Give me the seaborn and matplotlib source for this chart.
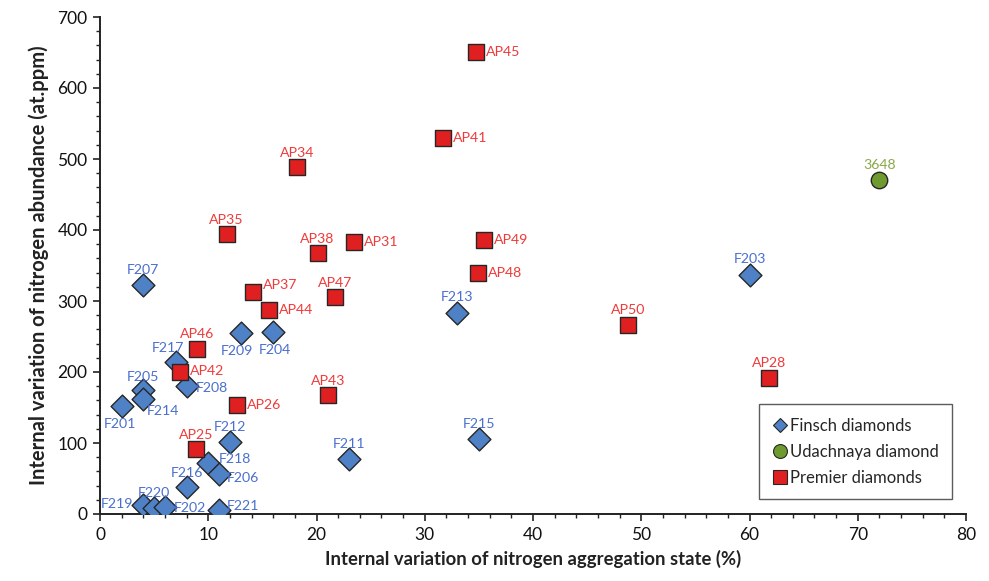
import matplotlib
matplotlib.use("Agg")
import matplotlib.pyplot as plt
from matplotlib.lines import Line2D
from matplotlib.ticker import MultipleLocator
import seaborn as sns
import pandas as pd

# ---- data ----
finsch_names = ["F207", "F205", "F214", "F201", "F217", "F208", "F209", "F204", "F212", "F218",
                "F206", "F216", "F219", "F220", "F202", "F221", "F211", "F213", "F215", "F203"]
finsch_x = [4, 4, 4, 2, 7, 8, 13, 16, 12, 10, 11, 8, 4, 5, 6, 11, 23, 33, 35, 60]
finsch_y = [322, 174, 162, 152, 214, 180, 255, 256, 102, 72, 57, 38, 12, 9, 10, 5, 77, 283, 106, 336]

udach_names = ["3648"]
udach_x = [72]
udach_y = [471]

premier_names = ["AP45", "AP41", "AP34", "AP35", "AP38", "AP31", "AP37", "AP47", "AP44", "AP46",
                 "AP42", "AP26", "AP43", "AP25", "AP49", "AP48", "AP50", "AP28"]
premier_x = [34.7, 31.7, 18.2, 11.7, 20.1, 23.5, 14.1, 21.7, 15.6, 9.0,
             7.4, 12.7, 21.1, 8.9, 35.5, 34.9, 48.8, 61.8]
premier_y = [651, 530, 489, 395, 368, 383, 313, 305, 287, 232,
             200, 154, 167, 92, 386, 339, 266, 191]

groups = ["Finsch diamonds", "Udachnaya diamond", "Premier diamonds"]

df = pd.DataFrame({
    "name": finsch_names + udach_names + premier_names,
    "x": finsch_x + udach_x + premier_x,
    "y": finsch_y + udach_y + premier_y,
    "group": [groups[0]] * len(finsch_names) + [groups[1]] * len(udach_names) + [groups[2]] * len(premier_names),
})

# ---- styles ----
fill = {groups[0]: "#4f81c7", groups[1]: "#6f9a2f", groups[2]: "#e02020"}
textc = {groups[0]: "#4a6fcf", groups[1]: "#8aa84a", groups[2]: "#f03a3a"}
markers = {groups[0]: "D", groups[1]: "o", groups[2]: "s"}
sizes = {groups[0]: 135, groups[1]: 140, groups[2]: 135}

# label placement: (dx_px, dy_px, ha)  positive dy = up
U = "center"
label_pos = {
    "F207": (0, 15, U), "F205": (0, 13, U), "F214": (20, -12, U), "F201": (-2, -18, U),
    "F217": (-8, 14, U), "F208": (9, -2, "left"), "F209": (-4, -18, U), "F204": (2, -18, U),
    "F212": (0, 15, U), "F218": (10, 4, "left"), "F206": (8, -4, "left"), "F216": (0, 14, U),
    "F219": (-10, 1, "right"), "F220": (0, 15, U), "F202": (9, -1, "left"), "F221": (8, 4, "left"),
    "F211": (0, 15, U), "F213": (0, 16, U), "F215": (0, 15, U), "F203": (0, 16, U),
    "3648": (0, 15, U),
    "AP45": (10, 0, "left"), "AP41": (10, 0, "left"), "AP34": (0, 14, U), "AP35": (0, 14, U),
    "AP38": (0, 14, U), "AP31": (10, 0, "left"), "AP37": (10, 7, "left"), "AP47": (0, 14, U),
    "AP44": (10, 0, "left"), "AP46": (0, 15, U), "AP42": (10, 1, "left"), "AP26": (9, 0, "left"),
    "AP43": (0, 14, U), "AP25": (0, 14, U), "AP49": (10, 0, "left"), "AP48": (10, 0, "left"),
    "AP50": (0, 15, U), "AP28": (0, 15, U),
}

sns.set_style("white")
plt.rcParams["font.family"] = ["Lato", "DejaVu Sans"]

fig = plt.figure(figsize=(9.89, 5.81), dpi=100)
ax = fig.add_axes([100 / 989, 67 / 581, 866 / 989, 497 / 581])

for g in groups:
    sub = df[df["group"] == g]
    sns.scatterplot(data=sub, x="x", y="y", ax=ax, marker=markers[g], s=sizes[g],
                    color=fill[g], edgecolor="#262626", linewidth=1.0, legend=False, zorder=3)

px2pt = 72 / 100
for _, r in df.iterrows():
    dx, dy, ha = label_pos[r["name"]]
    ax.annotate(r["name"], (r["x"], r["y"]), xytext=(dx * px2pt, dy * px2pt),
                textcoords="offset points", ha=ha, va="center",
                fontsize=10.2, color=textc[r["group"]], zorder=4)

ax.set_xlim(0, 80)
ax.set_ylim(0, 700)
ax.xaxis.set_major_locator(MultipleLocator(10))
ax.xaxis.set_minor_locator(MultipleLocator(2))
ax.yaxis.set_major_locator(MultipleLocator(100))
ax.yaxis.set_minor_locator(MultipleLocator(20))
ax.tick_params(axis="both", which="major", direction="out", length=5, width=1.2,
               labelsize=12.5, color="#222222", labelcolor="#111111", pad=4)
ax.tick_params(axis="both", which="minor", direction="out", length=3, width=1.0, color="#222222")
ax.tick_params(axis="x", which="both", bottom=True)
ax.tick_params(axis="y", which="both", left=True)

for side in ["top", "right"]:
    ax.spines[side].set_visible(False)
for side in ["left", "bottom"]:
    ax.spines[side].set_color("#222222")
    ax.spines[side].set_linewidth(1.4)

ax.set_xlabel("Internal variation of nitrogen aggregation state (%)", fontsize=13.3,
              fontweight="bold", color="#222222", labelpad=5)
ax.set_ylabel("Internal variation of nitrogen abundance (at.ppm)", fontsize=14.5,
              fontweight="bold", color="#222222", labelpad=6)

handles = [Line2D([], [], linestyle="none", marker=markers[g], markersize=ms,
                  markerfacecolor=fill[g], markeredgecolor="#262626", markeredgewidth=0.8, label=g)
           for g, ms in zip(groups, [7, 10, 9.5])]
leg = ax.legend(handles=handles, loc="lower right", bbox_to_anchor=(0.99, 0.02),
                frameon=True, fancybox=False, edgecolor="#333333", fontsize=12,
                handletextpad=0.1, handlelength=1.0, borderpad=0.8, labelspacing=0.6,
                borderaxespad=0.3)
leg.get_frame().set_linewidth(1.0)

fig.savefig("out.png", dpi=100)
